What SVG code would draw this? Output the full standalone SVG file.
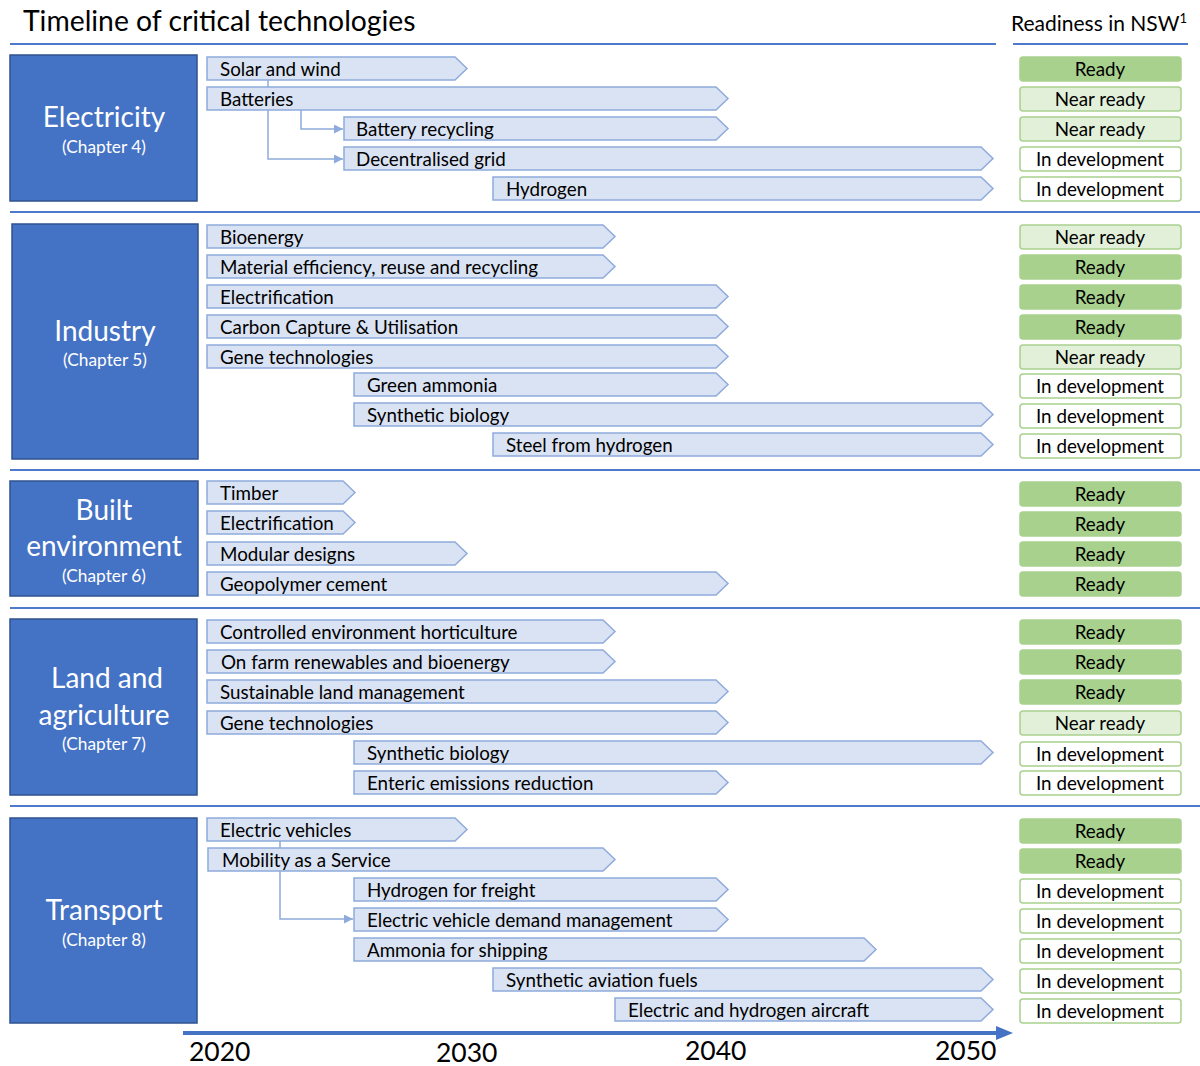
<svg xmlns="http://www.w3.org/2000/svg" width="1200" height="1066" viewBox="0 0 1200 1066">
<defs>
<style>
text{font-family:Lato,"Open Sans","Liberation Sans",sans-serif;fill:#000}
.title{font-size:28.3px}
.hdr{font-size:21px}
.sep{stroke:#4F7ACB;stroke-width:2;fill:none}
.cat{fill:#4472C4;stroke:#2F528F;stroke-width:1.5}
.cattxt{fill:#fff;font-size:28px;text-anchor:middle}
.chap{fill:#fff;font-size:17.3px;text-anchor:middle}
.bar{fill:#DAE3F3;stroke:#8FAADC;stroke-width:1.5}
.lbl{font-size:18.8px}
.rdy{fill:#A9D18E;stroke:#A9D18E;stroke-width:1.5}
.near{fill:#E2F0D9;stroke:#A9D18E;stroke-width:1.5}
.dev{fill:#fff;stroke:#A9D18E;stroke-width:1.5}
.rt{font-size:18.8px;text-anchor:middle}
.conn{stroke:#8FAADC;stroke-width:1.5;fill:none}
.year{font-size:26.5px}
</style>
<marker id="ah" viewBox="0 0 10 10" refX="10" refY="5" markerWidth="9" markerHeight="9" markerUnits="userSpaceOnUse" orient="auto">
<path d="M0,0 L10,5 L0,10 z" fill="#8FAADC"/>
</marker>
</defs>
<rect width="1200" height="1066" fill="#fff"/>

<g id="header">
<text class="title" x="23" y="31">Timeline of critical technologies</text>
<text class="hdr" x="1011" y="31">Readiness in NSW<tspan font-size="13" dy="-8">1</tspan></text>
<line class="sep" x1="10" y1="44" x2="996" y2="44"/>
<line class="sep" x1="1013" y1="44" x2="1188" y2="44"/>
</g>

<g id="separators">
<line class="sep" x1="10" y1="212" x2="1200" y2="212"/>
<line class="sep" x1="10" y1="470" x2="1200" y2="470"/>
<line class="sep" x1="10" y1="608" x2="1200" y2="608"/>
<line class="sep" x1="10" y1="806" x2="1200" y2="806"/>
</g>

<g id="cat-electricity">
<rect class="cat" x="10" y="55" width="187" height="146"/>
<text class="cattxt" x="104" y="127">Electricity</text>
<text class="chap" x="104" y="153">(Chapter 4)</text>
</g>
<g id="cat-industry">
<rect class="cat" x="12" y="224" width="186" height="235"/>
<text class="cattxt" x="105" y="341">Industry</text>
<text class="chap" x="105" y="366">(Chapter 5)</text>
</g>
<g id="cat-built">
<rect class="cat" x="10" y="481" width="188" height="115"/>
<text class="cattxt" x="104" y="520">Built</text>
<text class="cattxt" x="104" y="556">environment</text>
<text class="chap" x="104" y="582">(Chapter 6)</text>
</g>
<g id="cat-land">
<rect class="cat" x="10" y="619" width="187" height="176"/>
<text class="cattxt" x="107" y="688">Land and</text>
<text class="cattxt" x="104" y="725">agriculture</text>
<text class="chap" x="104" y="750">(Chapter 7)</text>
</g>
<g id="cat-transport">
<rect class="cat" x="10" y="818" width="187" height="205"/>
<text class="cattxt" x="104" y="920">Transport</text>
<text class="chap" x="104" y="946">(Chapter 8)</text>
</g>

<g id="connectors">
<line class="conn" x1="268" y1="80" x2="268" y2="87"/>
<polyline class="conn" points="268,110 268,159 343,159" marker-end="url(#ah)"/>
<polyline class="conn" points="301,110 301,129 343,129" marker-end="url(#ah)"/>
<line class="conn" x1="280" y1="841" x2="280" y2="848"/>
<polyline class="conn" points="280,871 280,919 353,919" marker-end="url(#ah)"/>
</g>

<!-- Electricity bars -->
<g id="t-solar"><polygon class="bar" points="207,57 455,57 467,68.5 455,80 207,80"/><text class="lbl" x="220" y="75.5">Solar and wind</text></g>
<g id="t-batteries"><polygon class="bar" points="207,87 716,87 728,98.5 716,110 207,110"/><text class="lbl" x="220" y="105.5">Batteries</text></g>
<g id="t-battrec"><polygon class="bar" points="344,117 716,117 728,128.5 716,140 344,140"/><text class="lbl" x="356" y="135.5">Battery recycling</text></g>
<g id="t-decgrid"><polygon class="bar" points="344,147 981,147 993,158.5 981,170 344,170"/><text class="lbl" x="356" y="165.5">Decentralised grid</text></g>
<g id="t-hydrogen"><polygon class="bar" points="493,177 981,177 993,188.5 981,200 493,200"/><text class="lbl" x="506" y="195.5">Hydrogen</text></g>

<!-- Industry bars -->
<g id="t-bioenergy"><polygon class="bar" points="207,225 603,225 615,236.5 603,248 207,248"/><text class="lbl" x="220" y="243.5">Bioenergy</text></g>
<g id="t-material"><polygon class="bar" points="207,255 603,255 615,266.5 603,278 207,278"/><text class="lbl" x="220" y="273.5">Material efficiency, reuse and recycling</text></g>
<g id="t-ind-elec"><polygon class="bar" points="207,285 716,285 728,296.5 716,308 207,308"/><text class="lbl" x="220" y="303.5">Electrification</text></g>
<g id="t-ccu"><polygon class="bar" points="207,315 716,315 728,326.5 716,338 207,338"/><text class="lbl" x="220" y="333.5">Carbon Capture &amp; Utilisation</text></g>
<g id="t-ind-gene"><polygon class="bar" points="207,345 716,345 728,356.5 716,368 207,368"/><text class="lbl" x="220" y="363.5">Gene technologies</text></g>
<g id="t-ammonia"><polygon class="bar" points="354,373 716,373 728,384.5 716,396 354,396"/><text class="lbl" x="367" y="391.5">Green ammonia</text></g>
<g id="t-ind-synbio"><polygon class="bar" points="354,403 981,403 993,414.5 981,426 354,426"/><text class="lbl" x="367" y="421.5">Synthetic biology</text></g>
<g id="t-steel"><polygon class="bar" points="493,433 981,433 993,444.5 981,456 493,456"/><text class="lbl" x="506" y="451.5">Steel from hydrogen</text></g>

<!-- Built environment bars -->
<g id="t-timber"><polygon class="bar" points="207,481 343,481 355,492.5 343,504 207,504"/><text class="lbl" x="220" y="499.5">Timber</text></g>
<g id="t-be-elec"><polygon class="bar" points="207,511 343,511 355,522.5 343,534 207,534"/><text class="lbl" x="220" y="529.5">Electrification</text></g>
<g id="t-modular"><polygon class="bar" points="207,542 455,542 467,553.5 455,565 207,565"/><text class="lbl" x="220" y="560.5">Modular designs</text></g>
<g id="t-geopoly"><polygon class="bar" points="207,572 716,572 728,583.5 716,595 207,595"/><text class="lbl" x="220" y="590.5">Geopolymer cement</text></g>

<!-- Land and agriculture bars -->
<g id="t-ceh"><polygon class="bar" points="207,620 603,620 615,631.5 603,643 207,643"/><text class="lbl" x="220" y="638.5">Controlled environment horticulture</text></g>
<g id="t-onfarm"><polygon class="bar" points="207,650 603,650 615,661.5 603,673 207,673"/><text class="lbl" x="221" y="668.5">On farm renewables and bioenergy</text></g>
<g id="t-sustland"><polygon class="bar" points="207,680 716,680 728,691.5 716,703 207,703"/><text class="lbl" x="220" y="698.5">Sustainable land management</text></g>
<g id="t-la-gene"><polygon class="bar" points="207,711 716,711 728,722.5 716,734 207,734"/><text class="lbl" x="220" y="729.5">Gene technologies</text></g>
<g id="t-la-synbio"><polygon class="bar" points="354,741 981,741 993,752.5 981,764 354,764"/><text class="lbl" x="367" y="759.5">Synthetic biology</text></g>
<g id="t-enteric"><polygon class="bar" points="354,771 716,771 728,782.5 716,794 354,794"/><text class="lbl" x="367" y="789.5">Enteric emissions reduction</text></g>

<!-- Transport bars -->
<g id="t-ev"><polygon class="bar" points="207,818 455,818 467,829.5 455,841 207,841"/><text class="lbl" x="220" y="836.5">Electric vehicles</text></g>
<g id="t-maas"><polygon class="bar" points="208,848 603,848 615,859.5 603,871 208,871"/><text class="lbl" x="222" y="866.5">Mobility as a Service</text></g>
<g id="t-h2freight"><polygon class="bar" points="354,878 716,878 728,889.5 716,901 354,901"/><text class="lbl" x="367" y="896.5">Hydrogen for freight</text></g>
<g id="t-evdm"><polygon class="bar" points="354,908 716,908 728,919.5 716,931 354,931"/><text class="lbl" x="367" y="926.5">Electric vehicle demand management</text></g>
<g id="t-shipping"><polygon class="bar" points="354,938 864,938 876,949.5 864,961 354,961"/><text class="lbl" x="367" y="956.5">Ammonia for shipping</text></g>
<g id="t-saf"><polygon class="bar" points="493,968 981,968 993,979.5 981,991 493,991"/><text class="lbl" x="506" y="986.5">Synthetic aviation fuels</text></g>
<g id="t-aircraft"><polygon class="bar" points="615,998 981,998 993,1009.5 981,1021 615,1021"/><text class="lbl" x="628" y="1016.5">Electric and hydrogen aircraft</text></g>

<!-- Readiness -->
<g id="readiness">
<rect class="rdy" x="1020" y="57" width="161" height="24" rx="3"/><text class="rt" x="1100" y="75.5">Ready</text>
<rect class="near" x="1020" y="87" width="161" height="24" rx="3"/><text class="rt" x="1100" y="105.5">Near ready</text>
<rect class="near" x="1020" y="117" width="161" height="24" rx="3"/><text class="rt" x="1100" y="135.5">Near ready</text>
<rect class="dev" x="1020" y="147" width="161" height="24" rx="3"/><text class="rt" x="1100" y="165.5">In development</text>
<rect class="dev" x="1020" y="177" width="161" height="24" rx="3"/><text class="rt" x="1100" y="195.5">In development</text>

<rect class="near" x="1020" y="225" width="161" height="24" rx="3"/><text class="rt" x="1100" y="243.5">Near ready</text>
<rect class="rdy" x="1020" y="255" width="161" height="24" rx="3"/><text class="rt" x="1100" y="273.5">Ready</text>
<rect class="rdy" x="1020" y="285" width="161" height="24" rx="3"/><text class="rt" x="1100" y="303.5">Ready</text>
<rect class="rdy" x="1020" y="315" width="161" height="24" rx="3"/><text class="rt" x="1100" y="333.5">Ready</text>
<rect class="near" x="1020" y="345" width="161" height="24" rx="3"/><text class="rt" x="1100" y="363.5">Near ready</text>
<rect class="dev" x="1020" y="374" width="161" height="24" rx="3"/><text class="rt" x="1100" y="392.5">In development</text>
<rect class="dev" x="1020" y="404" width="161" height="24" rx="3"/><text class="rt" x="1100" y="422.5">In development</text>
<rect class="dev" x="1020" y="434" width="161" height="24" rx="3"/><text class="rt" x="1100" y="452.5">In development</text>

<rect class="rdy" x="1020" y="482" width="161" height="24" rx="3"/><text class="rt" x="1100" y="500.5">Ready</text>
<rect class="rdy" x="1020" y="512" width="161" height="24" rx="3"/><text class="rt" x="1100" y="530.5">Ready</text>
<rect class="rdy" x="1020" y="542" width="161" height="24" rx="3"/><text class="rt" x="1100" y="560.5">Ready</text>
<rect class="rdy" x="1020" y="572" width="161" height="24" rx="3"/><text class="rt" x="1100" y="590.5">Ready</text>

<rect class="rdy" x="1020" y="620" width="161" height="24" rx="3"/><text class="rt" x="1100" y="638.5">Ready</text>
<rect class="rdy" x="1020" y="650" width="161" height="24" rx="3"/><text class="rt" x="1100" y="668.5">Ready</text>
<rect class="rdy" x="1020" y="680" width="161" height="24" rx="3"/><text class="rt" x="1100" y="698.5">Ready</text>
<rect class="near" x="1020" y="711" width="161" height="24" rx="3"/><text class="rt" x="1100" y="729.5">Near ready</text>
<rect class="dev" x="1020" y="742" width="161" height="24" rx="3"/><text class="rt" x="1100" y="760.5">In development</text>
<rect class="dev" x="1020" y="771" width="161" height="24" rx="3"/><text class="rt" x="1100" y="789.5">In development</text>

<rect class="rdy" x="1020" y="819" width="161" height="24" rx="3"/><text class="rt" x="1100" y="837.5">Ready</text>
<rect class="rdy" x="1020" y="849" width="161" height="24" rx="3"/><text class="rt" x="1100" y="867.5">Ready</text>
<rect class="dev" x="1020" y="879" width="161" height="24" rx="3"/><text class="rt" x="1100" y="897.5">In development</text>
<rect class="dev" x="1020" y="909" width="161" height="24" rx="3"/><text class="rt" x="1100" y="927.5">In development</text>
<rect class="dev" x="1020" y="939" width="161" height="24" rx="3"/><text class="rt" x="1100" y="957.5">In development</text>
<rect class="dev" x="1020" y="969" width="161" height="24" rx="3"/><text class="rt" x="1100" y="987.5">In development</text>
<rect class="dev" x="1020" y="999" width="161" height="24" rx="3"/><text class="rt" x="1100" y="1017.5">In development</text>
</g>

<g id="axis">
<line x1="183" y1="1033" x2="998" y2="1033" stroke="#4472C4" stroke-width="4"/>
<polygon points="996,1026 1013,1033 996,1040" fill="#4472C4"/>
<text class="year" x="189" y="1061">2020</text>
<text class="year" x="436" y="1062">2030</text>
<text class="year" x="685" y="1060">2040</text>
<text class="year" x="935" y="1060">2050</text>
</g>
</svg>
